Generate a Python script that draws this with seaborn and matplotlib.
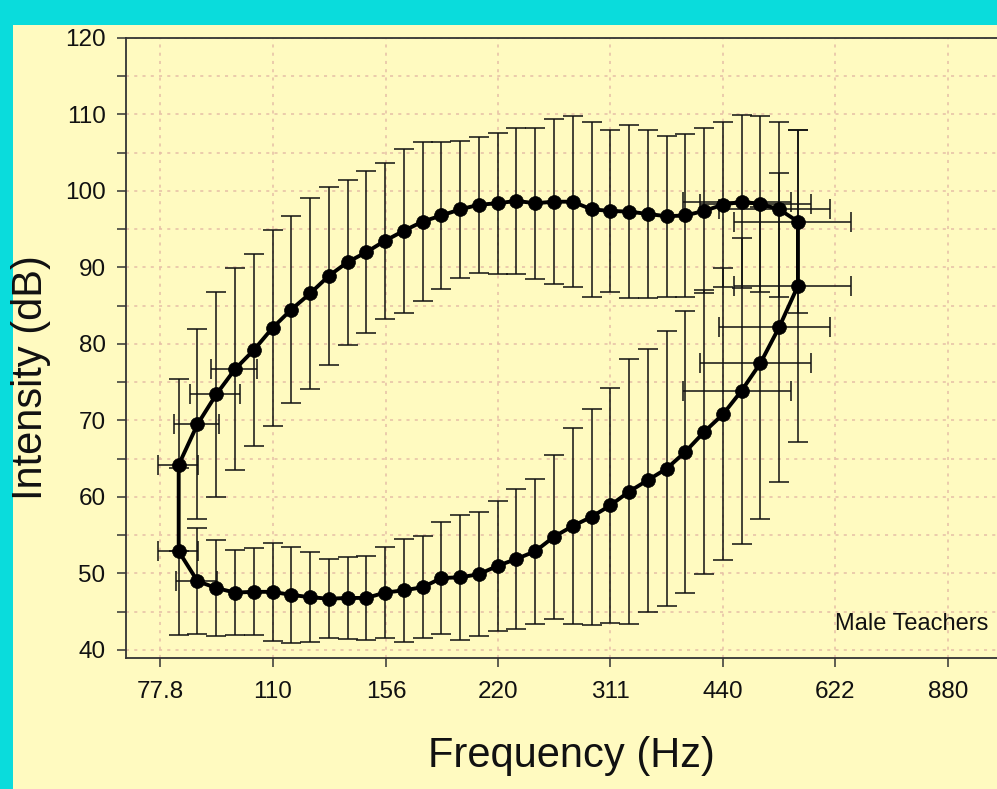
import numpy as np
import pandas as pd
import matplotlib
matplotlib.use("Agg")
import matplotlib.pyplot as plt
import seaborn as sns
from matplotlib.ticker import FixedLocator, NullLocator, MultipleLocator
from matplotlib.patches import Rectangle

# ---------------- data ----------------
semitone_hz = [82.41, 87.31, 92.50, 98.00, 103.83, 110.00, 116.54, 123.47, 130.81,
               138.59, 146.83, 155.56, 164.81, 174.61, 185.00, 196.00, 207.65, 220.00,
               233.08, 246.94, 261.63, 277.18, 293.66, 311.13, 329.63, 349.23, 369.99,
               392.00, 415.30, 440.00, 466.16, 493.88, 523.25, 554.37]

upper_db = [64.2, 69.5, 73.4, 76.7, 79.2, 82.1, 84.5, 86.6, 88.9, 90.7, 92.0, 93.5,
            94.8, 96.0, 96.8, 97.6, 98.2, 98.4, 98.7, 98.4, 98.6, 98.6, 97.6, 97.4,
            97.3, 97.0, 96.7, 96.8, 97.4, 98.2, 98.6, 98.3, 97.6, 96.0]
upper_sd = [11.2, 12.4, 13.4, 13.2, 12.6, 12.8, 12.2, 12.5, 11.6, 10.8, 10.6, 10.2,
            10.7, 10.4, 9.6, 9.0, 8.9, 9.2, 9.5, 9.9, 10.8, 11.2, 11.4, 10.6,
            11.3, 11.0, 10.5, 10.6, 10.8, 10.8, 11.3, 11.5, 11.4, 12.0]

lower_db = [52.9, 49.0, 48.1, 47.5, 47.6, 47.6, 47.2, 46.9, 46.7, 46.8, 46.8, 47.5,
            47.8, 48.2, 49.4, 49.5, 49.9, 51.0, 51.9, 52.9, 54.8, 56.2, 57.4, 58.9,
            60.7, 62.2, 63.7, 65.9, 68.5, 70.8, 73.9, 77.5, 82.2, 87.6]
lower_sd = [10.9, 6.9, 6.3, 5.6, 5.7, 6.4, 6.3, 5.9, 5.2, 5.4, 5.5, 6.0,
            6.7, 6.7, 7.3, 8.2, 8.1, 8.5, 9.1, 9.5, 10.7, 12.8, 14.1, 15.4,
            17.3, 17.2, 18.0, 18.4, 18.6, 19.1, 20.0, 20.4, 20.2, 20.4]

# frequency standard deviations (Hz) at the range ends
upper_hbar_hz = [82.41, 87.31, 92.50, 98.00, 466.16, 493.88, 523.25, 554.37]
upper_hbar_db = [64.2, 69.5, 73.4, 76.7, 98.6, 98.3, 97.6, 96.0]
upper_hbar_sd = [5.0, 6.0, 7.1, 7.0, 77.0, 84.0, 89.0, 99.0]
lower_hbar_hz = [82.41, 87.31, 466.16, 493.88, 523.25, 554.37]
lower_hbar_db = [52.9, 49.0, 73.9, 77.5, 82.2, 87.6]
lower_hbar_sd = [5.0, 5.5, 77.0, 84.0, 89.0, 99.0]

xtick_hz = [77.8, 110, 156, 220, 311, 440, 622, 880]
xtick_labels = ["77.8", "110", "156", "220", "311", "440", "622", "880"]

# ---------------- style ----------------
CYAN = "#0adcdc"
YELLOW = "#fffac0"
GRID = "#e6bea6"
INK = "#111111"

sns.set_theme(style="ticks")
plt.rcParams["font.family"] = ["Liberation Sans", "DejaVu Sans"]

W, H = 997, 789
fig = plt.figure(figsize=(W / 100, H / 100), dpi=100, facecolor=CYAN)
panel = Rectangle((13 / W, 0), 1, (H - 25) / H, transform=fig.transFigure,
                  facecolor=YELLOW, edgecolor="none", zorder=-10)
fig.add_artist(panel)
ax = fig.add_axes([126 / W, (H - 658) / H, 871.3 / W, 620 / H])
ax.set_zorder(1)
ax.set_facecolor(YELLOW)
ax.set_xscale("log")

# error bars
eb = dict(fmt="none", ecolor=INK, elinewidth=1.1, capsize=7, capthick=1.1, zorder=2)
ax.errorbar(semitone_hz, upper_db, yerr=upper_sd, **eb)
ax.errorbar(semitone_hz, lower_db, yerr=lower_sd, **eb)
ax.errorbar(upper_hbar_hz, upper_hbar_db, xerr=upper_hbar_sd, **eb)
ax.errorbar(lower_hbar_hz, lower_hbar_db, xerr=lower_hbar_sd, **eb)

# closed contour: upper left->right, lower right->left, back to start
path = pd.DataFrame({
    "hz": semitone_hz + semitone_hz[::-1] + semitone_hz[:1],
    "db": upper_db + lower_db[::-1] + upper_db[:1],
})
sns.lineplot(data=path, x="hz", y="db", sort=False, estimator=None, color="black",
             linewidth=2.8, ax=ax, zorder=3)
points = pd.DataFrame({"hz": semitone_hz + semitone_hz, "db": upper_db + lower_db})
sns.scatterplot(data=points, x="hz", y="db", color="black", edgecolor="black",
                s=100, linewidth=0.5, ax=ax, zorder=4)

ax.set_xlim(70.07, 1024)
ax.set_ylim(38.95, 120)

ax.xaxis.set_major_locator(FixedLocator(xtick_hz))
ax.xaxis.set_minor_locator(NullLocator())
ax.set_xticklabels(xtick_labels)
ax.yaxis.set_major_locator(MultipleLocator(10))
ax.yaxis.set_minor_locator(MultipleLocator(5))

ax.tick_params(axis="both", which="both", direction="out", length=6.7, width=1.1,
               color="#333333", labelcolor=INK, labelsize=17.5)
ax.tick_params(axis="y", which="both", pad=8)
ax.tick_params(axis="x", which="both", pad=10)

ax.set_axisbelow(True)
dots = (0, (2.0, 3.4))
ax.grid(axis="y", which="both", color=GRID, linestyle=dots, linewidth=1.1)
ax.grid(axis="x", which="major", color=GRID, linestyle=dots, linewidth=1.1)

for s in ["left", "bottom", "top"]:
    ax.spines[s].set_visible(True)
    ax.spines[s].set_color("#333333")
    ax.spines[s].set_linewidth(1.3)
ax.spines["right"].set_visible(False)

ax.set_xlabel("Frequency (Hz)", fontsize=30, color=INK)
ax.xaxis.label.set_va("baseline")
ax.xaxis.set_label_coords((571 - 126) / 871.3, (658 - 767) / 620)
ax.set_ylabel("Intensity (dB)", fontsize=30, color=INK)
ax.yaxis.label.set_va("center")
ax.yaxis.label.set_ha("center")
ax.yaxis.set_label_coords((31 - 126) / 871.3, (658 - 378) / 620)

ax.text(622, 42.6, "Male Teachers", ha="left", va="baseline", fontsize=17, color=INK)

fig.savefig("out.png", dpi=100, facecolor=CYAN)
